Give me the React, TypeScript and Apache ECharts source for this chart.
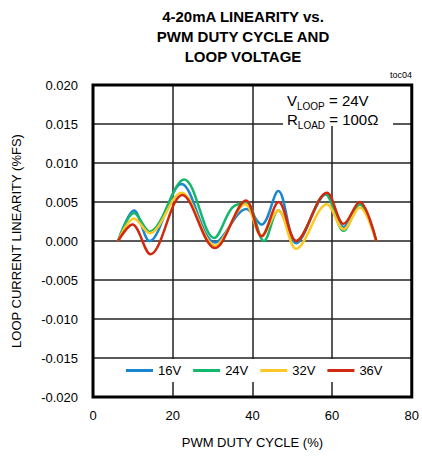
import React, { useEffect, useRef } from "react";
import * as echarts from "echarts";

const xTicks = [0, 20, 40, 60, 80];
const yTicks = [-0.02, -0.015, -0.01, -0.005, 0, 0.005, 0.01, 0.015, 0.02];

const seriesNames = ["16V", "24V", "32V", "36V"];
const seriesColors = ["#1b86d0", "#15b86a", "#fdc726", "#d0290f"];

const x16 = [6.3, 10.3, 14.2, 22.2, 30.6, 38.5, 42.3, 46.5, 51, 58.5, 62.9, 66.9, 71.1];
const y16 = [0, 0.0039, 0, 0.0073, -0.0002, 0.0041, 0.0021, 0.0064, -0.0003, 0.006, 0.0018, 0.0047, 0];

const x24 = [6.3, 10.3, 14.2, 22.9, 30.4, 35, 38.5, 42.9, 46.5, 51, 58.3, 62.9, 66.9, 71.1];
const y24 = [0, 0.0036, 0.0012, 0.0079, 0.0004, 0.0043, 0.0049, 0, 0.0039, 0, 0.006, 0.0013, 0.0047, 0];

const x32 = [6.3, 10.3, 14.2, 22.2, 30.6, 38.2, 42.3, 46.5, 51, 58.7, 62.9, 66.9, 71.1];
const y32 = [0, 0.0029, 0.001, 0.0062, -0.0006, 0.0047, 0.0007, 0.0039, -0.001, 0.0047, 0.0015, 0.0043, 0];

const x36 = [6.3, 9.9, 14.4, 22.4, 30.6, 38.4, 42.3, 46.6, 51, 58.7, 62.9, 66.9, 71.1];
const y36 = [0, 0.0021, -0.0017, 0.0059, -0.0009, 0.0052, 0.0006, 0.005, 0, 0.0062, 0.0022, 0.005, 0];

const xsAll = [x16, x24, x32, x36];
const ysAll = [y16, y24, y32, y36];

const FONT = "'Liberation Sans', Arial, sans-serif";

export default function App() {
  const ref = useRef<HTMLDivElement>(null);
  useEffect(() => {
    if (!ref.current) return;
    const chart = echarts.init(ref.current, undefined, { renderer: "svg" });
    const series = seriesNames.map((name, i) => ({
      name,
      type: "line",
      smooth: 0.35,
      symbol: "none",
      lineStyle: { width: 2.5, color: seriesColors[i] },
      itemStyle: { color: seriesColors[i] },
      data: xsAll[i].map((x, j) => [x, ysAll[i][j]]),
      z: 3 + i,
    }));
    chart.setOption({
      animation: false,
      backgroundColor: "#fff",
      textStyle: { fontFamily: FONT },
      title: {
        text: "4-20mA LINEARITY vs.\nPWM DUTY CYCLE AND\nLOOP VOLTAGE",
        left: 238,
        textAlign: "center",
        top: 1,
        textStyle: { fontFamily: FONT, fontSize: 15, fontWeight: "bold", color: "#000", lineHeight: 20 },
      },
      grid: {
        left: 93,
        top: 85,
        width: 322,
        height: 312,
        show: true,
        borderColor: "#000",
        borderWidth: 3,
        backgroundColor: "transparent",
        z: 10,
      },
      legend: {
        data: seriesNames,
        left: 95,
        top: 359,
        width: 330,
        padding: [5, 30, 5, 31],
        backgroundColor: "#fff",
        itemWidth: 27,
        itemHeight: 3,
        itemGap: 12,
        icon: "rect",
        textStyle: { fontFamily: FONT, fontSize: 13, color: "#000" },
      },
      xAxis: {
        type: "value",
        min: 0,
        max: 80,
        interval: 20,
        name: "PWM DUTY CYCLE (%)",
        nameLocation: "middle",
        nameGap: 39,
        nameTextStyle: { fontFamily: FONT, fontSize: 13, color: "#000" },
        axisLine: { show: false },
        axisTick: { show: false },
        axisLabel: { fontFamily: FONT, fontSize: 13, color: "#000", margin: 12,
          formatter: (v: number) => (xTicks.includes(v) ? String(v) : "") },
        splitLine: { show: true, lineStyle: { color: "#222", width: 1.5 } },
      },
      yAxis: {
        type: "value",
        min: -0.02,
        max: 0.02,
        interval: 0.005,
        name: "LOOP CURRENT LINEARITY (%FS)",
        nameLocation: "middle",
        nameGap: 70,
        nameTextStyle: { fontFamily: FONT, fontSize: 13, color: "#000" },
        axisLine: { show: false },
        axisTick: { show: false },
        axisLabel: { fontFamily: FONT, fontSize: 13, color: "#000", margin: 15,
          formatter: (v: number) => {
            const t = yTicks.find((k) => Math.abs(k - v) < 1e-9);
            return t === undefined ? "" : t.toFixed(3);
          } },
        splitLine: { show: true, lineStyle: { color: "#222", width: 1.5 } },
      },
      graphic: [
        { type: "rect", shape: { x: 283, y: 86, width: 110, height: 40 }, style: { fill: "#fff" }, z: 5 },
        {
          type: "text", x: 287, y: 89, z: 6,
          style: {
            text: "{m|V}{s|LOOP}{m| = 24V}\n{m|R}{s|LOAD}{m| = 100Ω}",
            fontFamily: FONT,
            rich: {
              m: { fontSize: 15, fontFamily: FONT, color: "#000", lineHeight: 19, verticalAlign: "bottom" },
              s: { fontSize: 10, fontFamily: FONT, color: "#000", lineHeight: 19, verticalAlign: "bottom", padding: [0, 0, -3, 0] },
            },
          },
        },
        { type: "text", x: 390, y: 70, z: 6, style: { text: "toc04", fontFamily: FONT, fontSize: 9, fill: "#000" } },
      ],
      series,
    });
    return () => chart.dispose();
  }, []);
  return <div ref={ref} style={{ position: "fixed", left: 0, top: 0, width: 422, height: 456 }} />;
}
